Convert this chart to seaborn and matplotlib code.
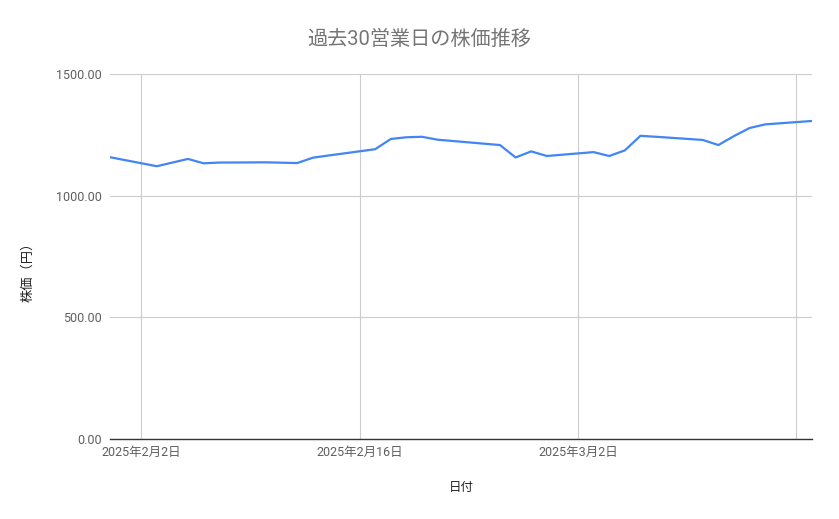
import matplotlib
matplotlib.use("Agg")
import matplotlib.pyplot as plt
import matplotlib.ticker as mticker
import seaborn as sns
import pandas as pd

# ---- data ----
dates = [
    "2025-01-31", "2025-02-03", "2025-02-04", "2025-02-05", "2025-02-06",
    "2025-02-07", "2025-02-10", "2025-02-12", "2025-02-13", "2025-02-14",
    "2025-02-17", "2025-02-18", "2025-02-19", "2025-02-20", "2025-02-21",
    "2025-02-25", "2025-02-26", "2025-02-27", "2025-02-28", "2025-03-03",
    "2025-03-04", "2025-03-05", "2025-03-06", "2025-03-07", "2025-03-10",
    "2025-03-11", "2025-03-12", "2025-03-13", "2025-03-14", "2025-03-17",
]
prices = [
    1158, 1121, 1136, 1151, 1133,
    1136, 1137, 1134, 1156, 1165,
    1191, 1233, 1240, 1242, 1230,
    1208, 1157, 1182, 1163, 1179,
    1163, 1186, 1246, 1242, 1229,
    1208, 1245, 1278, 1293, 1307,
]
tick_dates = ["2025-02-02", "2025-02-16", "2025-03-02", "2025-03-16"]
tick_labels = ["2025年2月2日", "2025年2月16日", "2025年3月2日", ""]
y_ticks = [0, 500, 1000, 1500]

title = "過去30営業日の株価推移"
x_label = "日付"
y_label = "株価（円）"

df = pd.DataFrame({"date": pd.to_datetime(dates), "price": prices})

sns.set_theme(style="whitegrid")
plt.rcParams["font.family"] = ["Roboto", "Noto Sans CJK JP", "DejaVu Sans"]

fig = plt.figure(figsize=(8.39, 5.19), dpi=100)
ax = fig.add_axes([110 / 839, 1 - 439 / 519, 702 / 839, 365 / 519])

sns.lineplot(data=df, x="date", y="price", ax=ax, color="#4285F4", linewidth=1.6)

ax.set_xlim(pd.Timestamp("2025-01-31"), pd.Timestamp("2025-03-17"))
ax.set_ylim(0, 1500)
ax.set_xticks(pd.to_datetime(tick_dates))
ax.set_xticklabels(tick_labels)
ax.set_yticks(y_ticks)
ax.yaxis.set_major_formatter(mticker.FormatStrFormatter("%.2f"))

ax.grid(True, color="#cccccc", linewidth=0.8)
ax.set_facecolor("white")
for s in ["left", "right", "top"]:
    ax.spines[s].set_visible(False)
ax.spines["bottom"].set_visible(True)
ax.spines["bottom"].set_color("#333333")
ax.spines["bottom"].set_linewidth(1.0)

ax.tick_params(axis="both", length=0, labelsize=9, colors="#5f5f5f")
ax.tick_params(axis="y", pad=6)
ax.tick_params(axis="x", pad=5)

ax.set_xlabel(x_label, fontsize=9, color="#222222")
ax.xaxis.set_label_coords(0.5, -0.115)
ax.set_ylabel(y_label, fontsize=9.5, color="#222222")
ax.yaxis.set_label_coords(-0.108, 0.466)

fig.text(0.5, 1 - 39 / 519, title, ha="center", va="center",
         fontsize=14.5, color="#757575")

fig.savefig("out.png", dpi=100, facecolor="white")
